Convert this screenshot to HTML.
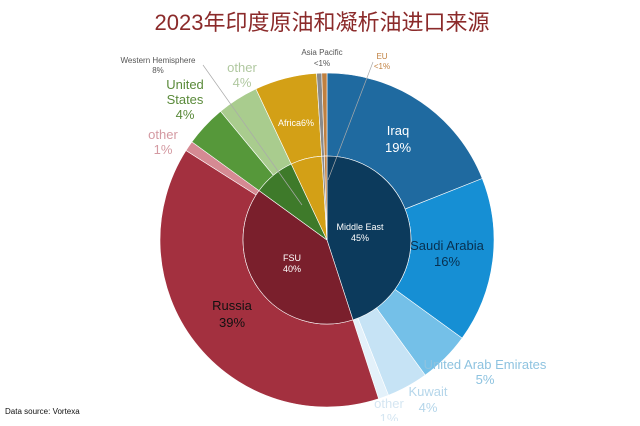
<!DOCTYPE html>
<html><head><meta charset="utf-8"><style>
body{margin:0;background:#fff;width:640px;height:421px;overflow:hidden;font-family:"Liberation Sans","Noto Sans CJK SC",sans-serif}
</style></head><body>
<svg id="s" width="640" height="421" xmlns="http://www.w3.org/2000/svg" font-family="Liberation Sans, Noto Sans CJK SC, sans-serif">
<text x="322" y="30" text-anchor="middle" font-size="22" fill="#8b2a2a">2023年印度原油和凝析油进口来源</text>
<g id="pie"></g>
<g font-size="12" text-anchor="middle">
<text x="398" y="135" fill="#fff" font-size="13">Iraq</text><text x="398" y="152" fill="#fff" font-size="13">19%</text>
<text x="447" y="250" fill="#083050" font-size="13">Saudi Arabia</text><text x="447" y="266" fill="#083050" font-size="13">16%</text>
<text x="485" y="369" fill="#8ec3e0" font-size="13">United Arab Emirates</text><text x="485" y="384" fill="#8ec3e0" font-size="13">5%</text>
<text x="428" y="396" fill="#b5d6ea" font-size="13">Kuwait</text><text x="428" y="412" fill="#b5d6ea" font-size="13">4%</text>
<text x="389" y="408" fill="#d5e6f2" font-size="13">other</text><text x="389" y="423" fill="#d5e6f2" font-size="13">1%</text>
<text x="360" y="230" fill="#fff" font-size="9">Middle East</text><text x="360" y="241" fill="#fff" font-size="9">45%</text>
<text x="292" y="261" fill="#fff" font-size="9">FSU</text><text x="292" y="272" fill="#fff" font-size="9">40%</text>
<text x="232" y="310" fill="#111" font-size="13">Russia</text><text x="232" y="327" fill="#111" font-size="13">39%</text>
<text x="163" y="139" fill="#d49aa2" font-size="13">other</text><text x="163" y="154" fill="#d49aa2" font-size="13">1%</text>
<text x="185" y="89" fill="#5a8a3a" font-size="13">United</text><text x="185" y="104" fill="#5a8a3a" font-size="13">States</text><text x="185" y="119" fill="#5a8a3a" font-size="13">4%</text>
<text x="242" y="72" fill="#b0c8a0" font-size="13">other</text><text x="242" y="87" fill="#b0c8a0" font-size="13">4%</text>
<text x="296" y="126" fill="#fff" font-size="9">Africa6%</text>
<text x="158" y="63" fill="#555" font-size="8">Western Hemisphere</text><text x="158" y="73" fill="#555" font-size="8">8%</text>
<text x="322" y="55" fill="#555" font-size="8">Asia Pacific</text><text x="322" y="66" fill="#555" font-size="8">&lt;1%</text>
<text x="382" y="59" fill="#c08040" font-size="8">EU</text><text x="382" y="69" fill="#c08040" font-size="8">&lt;1%</text>
</g>
<g stroke="#aaa" stroke-width="0.7" fill="none">
<line x1="203" y1="65" x2="302" y2="205"/>
<line x1="373" y1="62" x2="328" y2="180"/>
</g>
<text x="5" y="414" font-size="8" fill="#111">Data source: Vortexa</text>
</svg>
<script>
var cx=327,cy=240,R=167,r=84;
function pt(a,rad){a=a*Math.PI/180;return [cx+rad*Math.sin(a),cy-rad*Math.cos(a)];}
function arc(a0,a1,r0,r1,c){var p1=pt(a0,r1),p2=pt(a1,r1),p3=pt(a1,r0),p4=pt(a0,r0),l=(a1-a0)>180?1:0;
var d="M"+p1+" A"+r1+","+r1+" 0 "+l+" 1 "+p2+" L"+p3+(r0>0?" A"+r0+","+r0+" 0 "+l+" 0 "+p4:"")+" Z";
return '<path d="'+d+'" fill="'+c+'" stroke="#fff" stroke-width="0.6"/>';}
var o=[[0,68.4,"#1f6aa0"],[68.4,126,"#168fd4"],[126,144,"#74c0e8"],[144,158.4,"#c6e3f5"],[158.4,162,"#e3f1fa"],[162,302.4,"#a3303f"],[302.4,306,"#d58a93"],[306,320.4,"#56983a"],[320.4,334.8,"#a9cc8e"],[334.8,356.4,"#d3a016"],[356.4,358.2,"#8a8a8a"],[358.2,360,"#c08040"]];
var inn=[[0,162,"#0c3a5c"],[162,306,"#7a1f2c"],[306,334.8,"#3e7a2a"],[334.8,356.4,"#d3a016"],[356.4,358.2,"#8a8a8a"],[358.2,360,"#c08040"]];
var h="";o.forEach(function(s){h+=arc(s[0],s[1],r,R,s[2]);});inn.forEach(function(s){h+=arc(s[0],s[1],0,r,s[2]);});
document.getElementById("pie").innerHTML=h;
</script>
</body></html>
